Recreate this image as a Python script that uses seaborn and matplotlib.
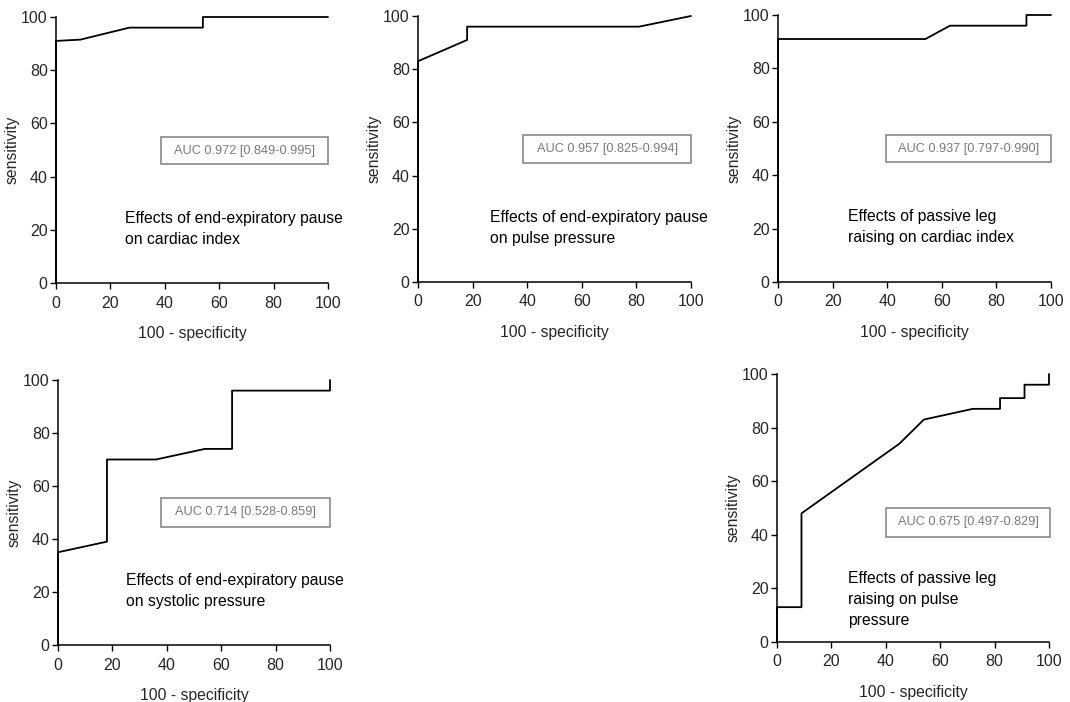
import seaborn as sns
import matplotlib.pyplot as plt
import pandas as pd
from matplotlib.patches import Rectangle

# ROC curves (x = 100 - specificity, y = sensitivity)
eep_ci_x = [0, 0, 9, 27, 54, 54, 100]
eep_ci_y = [0, 91, 91.5, 96, 96, 100, 100]

eep_pp_x = [0, 0, 18, 18, 81, 100]
eep_pp_y = [0, 83, 91, 96, 96, 100]

plr_ci_x = [0, 0, 54, 63, 91, 91, 100]
plr_ci_y = [0, 91, 91, 96, 96, 100, 100]

eep_sp_x = [0, 0, 18, 18, 36, 54, 64, 64, 100, 100]
eep_sp_y = [0, 35, 39, 70, 70, 74, 74, 96, 96, 100]

plr_pp_x = [0, 0, 9, 9, 45, 54, 72, 82, 82, 91, 91, 100, 100]
plr_pp_y = [0, 13, 13, 48, 74, 83, 87, 87, 91, 91, 96, 96, 100]

auc_labels = [
    "AUC 0.972 [0.849-0.995]",
    "AUC 0.957 [0.825-0.994]",
    "AUC 0.937 [0.797-0.990]",
    "AUC 0.714 [0.528-0.859]",
    "AUC 0.675 [0.497-0.829]",
]
captions = [
    "Effects of end-expiratory pause\non cardiac index",
    "Effects of end-expiratory pause\non pulse pressure",
    "Effects of passive leg\nraising on cardiac index",
    "Effects of end-expiratory pause\non systolic pressure",
    "Effects of passive leg\nraising on pulse\npressure",
]
curves = [
    (eep_ci_x, eep_ci_y),
    (eep_pp_x, eep_pp_y),
    (plr_ci_x, plr_ci_y),
    (eep_sp_x, eep_sp_y),
    (plr_pp_x, plr_pp_y),
]

sns.set_style("ticks")
plt.rcParams["font.family"] = ["Liberation Sans", "DejaVu Sans"]

W, H = 1070, 702
fig = plt.figure(figsize=(W / 100, H / 100), dpi=100)

# axes boxes in pixels: left, top(of y=100), right(x=100), bottom(y=0)
boxes = [
    (56, 17, 328, 283),
    (418, 16, 691, 282),
    (778, 15, 1051, 282),
    (58, 380, 330, 645),
    (777, 374, 1049, 642),
]
# AUC box: x0, y0, x1, y1 in data units
auc_box = [
    (38.6, 44.7, 100, 54.9),
    (38.5, 44.7, 100, 55.3),
    (39.5, 44.9, 100, 55.0),
    (37.9, 44.5, 100, 55.5),
    (40.0, 39.2, 100.5, 50.0),
]
cap_pos = [(25.4, 27.2), (26.4, 27.2), (25.6, 27.2), (25.0, 27.2), (26.1, 26.5)]

for i, (l, t, r, b) in enumerate(boxes):
    ax = fig.add_axes([l / W, 1 - b / H, (r - l) / W, (b - t) / H])
    xs, ys = curves[i]
    df = pd.DataFrame({"x": xs, "y": ys})
    sns.lineplot(data=df, x="x", y="y", sort=False, estimator=None,
                 color="black", linewidth=1.3, ax=ax, clip_on=False)
    ax.set_xlim(0, 100)
    ax.set_ylim(0, 100)
    ax.set_xticks(range(0, 101, 20))
    ax.set_yticks(range(0, 101, 20))
    ax.tick_params(labelsize=11.5, length=4, width=1, color="black", pad=2)
    ax.tick_params(axis="x", pad=5)
    for s in ("left", "bottom"):
        ax.spines[s].set_color("black")
        ax.spines[s].set_linewidth(1.1)
    sns.despine(ax=ax)
    ax.set_xlabel("100 - specificity", fontsize=11.3, labelpad=11)
    ax.set_ylabel("sensitivity", fontsize=11.3, labelpad=1)
    ax.patch.set_alpha(0)

    x0, y0, x1, y1 = auc_box[i]
    ax.add_patch(Rectangle((x0, y0), x1 - x0, y1 - y0, fill=False,
                           ec="#8a8a8a", lw=1.2, clip_on=False))
    ax.text((x0 + x1) / 2, (y0 + y1) / 2, auc_labels[i], fontsize=9.2,
            color="#7a7a7a", va="center", ha="center")
    ax.text(cap_pos[i][0], cap_pos[i][1], captions[i], fontsize=11.3,
            color="black", va="top", ha="left", linespacing=1.5)

fig.savefig("out.png", dpi=100, facecolor="white")
